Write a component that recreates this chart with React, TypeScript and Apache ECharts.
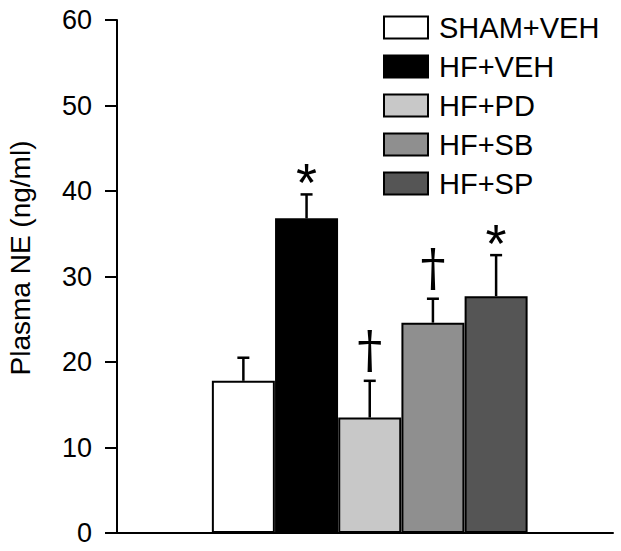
import React, { useEffect, useRef } from "react";
import * as echarts from "echarts";

const groups = ["SHAM+VEH", "HF+VEH", "HF+PD", "HF+SB", "HF+SP"];
const means = [17.8, 36.8, 13.5, 24.6, 27.7];
const errors = [2.7, 2.8, 4.3, 2.8, 4.8];
const marks = ["", "*", "†", "†", "*"];
const colors = ["#ffffff", "#000000", "#c8c8c8", "#8f8f8f", "#555555"];
const yTicks = [0, 10, 20, 30, 40, 50, 60];

export default function App() {
  const ref = useRef<HTMLDivElement>(null);
  useEffect(() => {
    if (!ref.current) return;
    const chart = echarts.init(ref.current, null, { renderer: "svg" });
    const font = "Liberation Sans, Arial, sans-serif";
    const barSeries = groups.map((g, i) => ({
      name: g,
      type: "bar",
      barWidth: 63,
      barGap: "-100%",
      data: [[i, means[i]]],
      itemStyle: { color: colors[i], borderColor: "#000", borderWidth: 2 },
      z: 2,
    }));
    const errSeries = {
      type: "custom",
      z: 5,
      data: groups.map((g, i) => [i, means[i], errors[i], i]),
      renderItem: (params: any, api: any) => {
        const x = api.value(0);
        const m = api.value(1);
        const e = api.value(2);
        const idx = api.value(3);
        const p0 = api.coord([x, m]);
        const p1 = api.coord([x, m + e]);
        const mark = marks[idx];
        const children: any[] = [
          {
            type: "line",
            shape: { x1: p0[0], y1: p0[1], x2: p1[0], y2: p1[1] },
            style: { stroke: "#000", lineWidth: 2.5 },
          },
          {
            type: "line",
            shape: { x1: p1[0] - 6, y1: p1[1], x2: p1[0] + 6, y2: p1[1] },
            style: { stroke: "#000", lineWidth: 2.5 },
          },
        ];
        if (mark === "*") {
          children.push({
            type: "text",
            x: p1[0],
            y: p1[1] - 12,
            style: {
              text: mark,
              fontSize: 54,
              fontFamily: font,
              fill: "#000",
              align: "center",
              verticalAlign: "middle",
            },
          });
        } else if (mark) {
          children.push({
            type: "text",
            x: p1[0],
            y: p1[1] - 6,
            style: {
              text: mark,
              fontSize: 50,
              fontFamily: "DejaVu Serif, Liberation Serif, serif",
              fill: "#000",
              align: "center",
              verticalAlign: "bottom",
            },
          });
        }
        return { type: "group", children };
      },
    };
    chart.setOption({
      animation: false,
      grid: { left: 117, right: 8, top: 20, bottom: 18 },
      legend: {
        orient: "vertical",
        left: 378,
        top: 8,
        itemWidth: 44,
        itemHeight: 22,
        itemGap: 10,
        data: groups,
        icon: "rect",
        textStyle: { fontSize: 29, fontFamily: font, color: "#000", padding: [0, 0, 0, 6] },
        itemStyle: { borderColor: "#000", borderWidth: 2 },
      },
      xAxis: {
        type: "value",
        min: -2,
        max: 5.85,
        axisLine: { show: true, onZero: false, lineStyle: { color: "#000", width: 2 } },
        axisTick: { show: false },
        axisLabel: { show: false },
        splitLine: { show: false },
      },
      yAxis: {
        type: "value",
        min: yTicks[0],
        max: yTicks[yTicks.length - 1],
        interval: 10,
        axisLine: { show: true, onZero: false, lineStyle: { color: "#000", width: 2 } },
        axisTick: { show: true, inside: false, length: 12, lineStyle: { color: "#000", width: 2 } },
        axisLabel: { fontSize: 27, fontFamily: font, color: "#000", margin: 25 },
        splitLine: { show: false },
      },
      graphic: [
        {
          type: "text",
          x: 20,
          y: 258,
          rotation: Math.PI / 2,
          style: {
            text: "Plasma NE (ng/ml)",
            fontSize: 28,
            fontFamily: font,
            fill: "#000",
            align: "center",
            verticalAlign: "middle",
          },
        },
      ],
      series: [...barSeries, errSeries],
    });
    return () => chart.dispose();
  }, []);
  return (
    <div
      ref={ref}
      style={{ position: "fixed", left: 0, top: 0, width: 621, height: 551, background: "#fff" }}
    />
  );
}
